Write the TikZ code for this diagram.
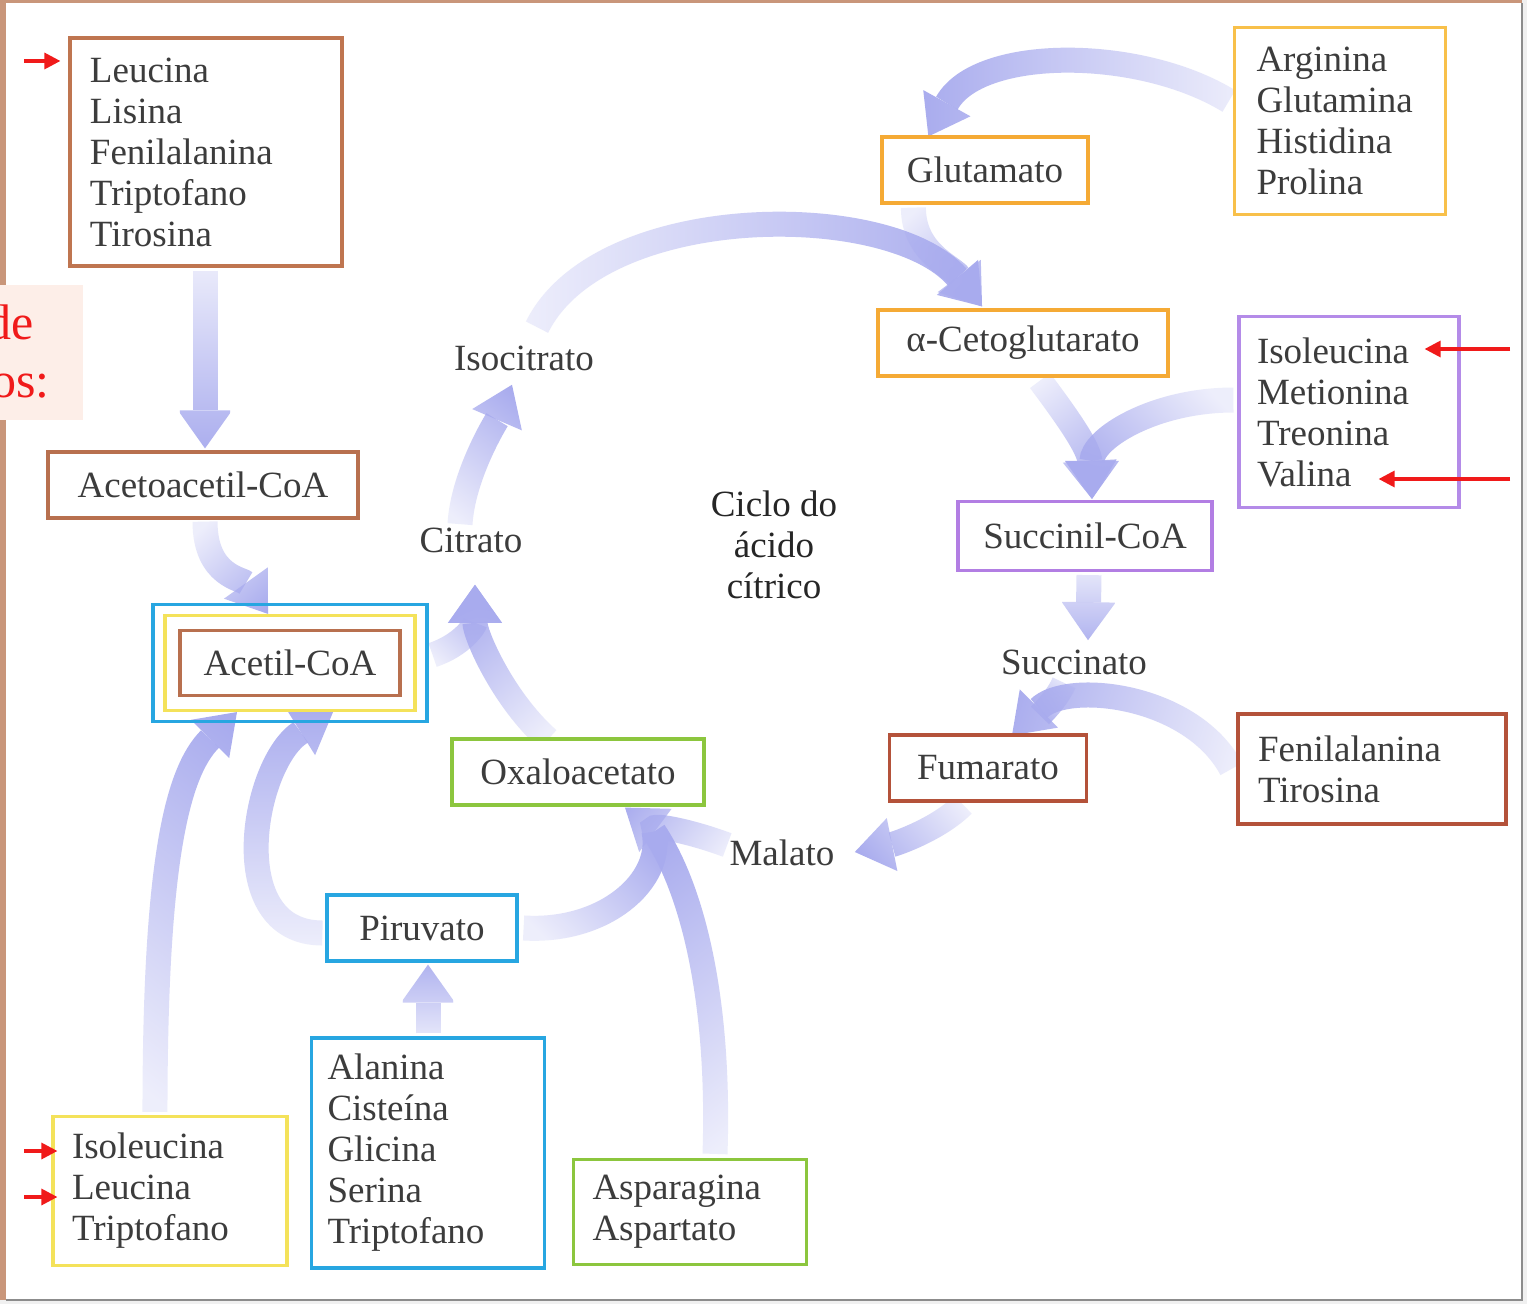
\documentclass[tikz,border=0pt]{standalone}
\usepackage{fontspec}
\setmainfont{Liberation Serif}
\usetikzlibrary{arrows.meta,calc,fadings}
\definecolor{framec}{HTML}{C9967A}
\definecolor{pinkc}{HTML}{FDEEE8}
\definecolor{txtc}{HTML}{3C3C3C}
\definecolor{flowc}{HTML}{A8ABEE}
\definecolor{redc}{HTML}{F01A1A}
\definecolor{brownc}{HTML}{BF7550}
\definecolor{acac}{HTML}{B8704F}
\definecolor{orangec}{HTML}{F5AA35}
\definecolor{argc}{HTML}{F8C04A}
\definecolor{purplec}{HTML}{B48BE8}
\definecolor{scoac}{HTML}{B27EE3}
\definecolor{rbrownc}{HTML}{B4523A}
\definecolor{greenc}{HTML}{8CC63E}
\definecolor{bluec}{HTML}{27A6E1}
\definecolor{yellowc}{HTML}{F4E25A}
\newcommand\boxfont{\fontsize{18.5}{20.5}\selectfont}
\pgfdeclarelayer{bgzero}
\pgfdeclarelayer{bgone}
\pgfsetlayers{bgzero,bgone,main}
\tikzfading[name=tailfade, left color=transparent!80, middle color=transparent!15, right color=transparent!0]
\tikzset{
  lbl/.style={font=\boxfont, text=txtc, inner sep=0pt},
  bx/.style={draw=#1, line width=1.6pt, fill=white, font=\boxfont, text=txtc, inner sep=0pt, align=center},
  lst/.style={align=left, inner xsep=#1, inner ysep=0pt},
  flow/.style={draw=flowc, line width=12.5pt, -{Triangle[width=27pt,length=19pt,line width=0pt]}, path fading=tailfade, fading angle=#1},
  flowt/.style={draw=flowc, line width=12.5pt, path fading=tailfade, fading angle=#1},
  redar/.style={draw=redc, line width=1.6pt, -{Triangle[width=8pt,length=8pt]}},
}
\begin{document}
\begin{tikzpicture}[x=0.5pt,y=-0.5pt]
\useasboundingbox (0,0) rectangle (1527,1304);
\begin{pgfonlayer}{bgzero}
  \fill[white] (0,0) rectangle (1527,1304);
  \fill[framec] (0,0) rectangle (6,1304);
  \fill[framec] (0,0) rectangle (1527,3);
  \fill[black!6] (1522,0) rectangle (1527,1304);
  \fill[black!6] (0,1300) rectangle (1527,1304);
  \draw[black!45, line width=0.6pt] (1522,3) -- (1522,1300) -- (6,1300);
  \fill[pinkc] (0,285) rectangle (83,420);
\end{pgfonlayer}

% red partial title (clipped at the left edge, as in the reference)
\begin{scope}
  \clip (0,285) rectangle (83,420);
  \node[anchor=base east, inner sep=0pt, text=redc, font=\fontsize{25}{30}\selectfont] (de) at (34,340) {de};
  \node[anchor=base east, inner sep=0pt, text=redc, font=\fontsize{25}{30}\selectfont] (os) at (50,398) {os:};
\end{scope}

% boxes
\node[bx=brownc, lst=10pt, text width=116pt, minimum height=114pt] (leu) at (206,152)
  {Leucina\\Lisina\\Fenilalanina\\Triptofano\\Tirosina};
\node[bx=acac, minimum width=155pt, minimum height=33pt] (aca) at (203,485) {Acetoacetil-CoA};
\node[draw=bluec, line width=1.6pt, minimum width=137pt, minimum height=58.5pt, inner sep=0pt] (acoaB) at (290,663) {};
\node[draw=yellowc, line width=1.6pt, minimum width=125pt, minimum height=47.5pt, inner sep=0pt] (acoaY) at (290,663) {};
\node[bx=acac, minimum width=110pt, minimum height=32.5pt] (acoa) at (290,663) {Acetil-CoA};

\node[lbl] (iso) at (524,358) {Isocitrato};
\node[lbl] (cit) at (471,540) {Citrato};
\node[lbl, align=center, text=black!85] (ciclo) at (774,545) {Ciclo do\\ácido\\cítrico};

\node[bx=orangec, minimum width=103pt, minimum height=33pt] (glu) at (985,170) {Glutamato};
\node[bx=argc, lst=11pt, text width=83.5pt, minimum height=93.5pt] (arg) at (1340,121)
  {Arginina\\Glutamina\\Histidina\\Prolina};
\node[bx=orangec, minimum width=145pt, minimum height=33pt] (akg) at (1023,343) {α-Cetoglutarato};
\node[bx=purplec, lst=9pt, text width=92pt, minimum height=95.5pt] (ile) at (1349,412)
  {Isoleucina\\Metionina\\Treonina\\Valina};
\node[bx=scoac, minimum width=127pt, minimum height=34.5pt] (scoa) at (1085,536) {Succinil-CoA};
\node[lbl] (succ) at (1074,662) {Succinato};
\node[bx=rbrownc, minimum width=98.5pt, minimum height=33pt] (fum) at (988,768) {Fumarato};
\node[bx=rbrownc, lst=10pt, text width=114pt, minimum height=55pt] (phe) at (1372,769)
  {Fenilalanina\\Tirosina};
\node[lbl] (mal) at (782,853) {Malato};
\node[bx=greenc, minimum width=126pt, minimum height=33pt] (oaa) at (578,772) {Oxaloacetato};
\node[bx=bluec, minimum width=95pt, minimum height=33pt] (pyr) at (422,928) {Piruvato};
\node[bx=bluec, lst=8pt, text width=100.5pt, minimum height=115pt] (ala) at (428,1153)
  {Alanina\\Cisteína\\Glicina\\Serina\\Triptofano};
\node[bx=yellowc, lst=9.5pt, text width=98pt, minimum height=74.5pt] (ilt) at (170,1191)
  {Isoleucina\\Leucina\\Triptofano};
\node[bx=greenc, lst=9.5pt, text width=97.5pt, minimum height=52.5pt] (asn) at (690,1212)
  {Asparagina\\Aspartato};

% connection points
\coordinate (citin) at ($(cit.south)+(4,32)$);
\coordinate (akgin) at ($(akg.north)+(-41,-2)$);
\coordinate (scoain) at ($(scoa.north)+(7,-1)$);
\coordinate (fumin) at ($(fum.north)+(24,2)$);
\coordinate (fummerge) at ($(fum.north)+(52,-18)$);
\coordinate (oaain) at ($(oaa.south)+(47,1)$);
\coordinate (oaamerge) at ($(oaa.south)+(76,25)$);

\begin{pgfonlayer}{bgone}
  \draw[flow=-90] ($(leu.south)+(-1,3)$) -- ($(aca.north)+(2,-2)$);
  \draw[flow=-56] ($(aca.south)+(2,2)$) .. controls +(0,55) and +(-25,-35) .. ($(acoaY.north)+(-22,0)$);
  \draw[flow=57] ($(acoaB.east)+(4,-8)$) .. controls +(30,-10) and +(0,40) .. (citin);
  \draw[flow=115] ($(oaa.north)+(-30,2)$) .. controls +(-45,-40) and +(0,50) .. (citin);
  \draw[flow=69] ($(cit.north)+(-11,-3)$) .. controls +(3,-50) and +(-15,35) .. ($(iso.south)+(-12,14)$);
  \draw[flow=0] ($(iso.north)+(13,-18)$) .. controls +(63,-127) and +(-91,-107) .. (akgin);
  \draw[flow=-56] ($(glu.south west)+(33,3)$) .. controls +(0,45) and +(-30,-40) .. (akgin);
  \draw[flow=180] ($(arg.west)+(-4,-20)$) .. controls +(-90,-55) and +(50,-90) .. ($(glu.north west)+(48,1)$);
  \draw[flow=-67] ($(akg.south)+(17,3)$) .. controls +(30,40) and +(-3,-50) .. (scoain);
  \draw[flow=215] ($(ile.west)+(-4,-12)$) .. controls +(-80,0) and +(0,-60) .. (scoain);
  \draw[flow=-90] ($(scoa.south)+(4,3)$) -- ($(succ.north)+(14,-9)$);
  \draw[flow=172] ($(phe.west)+(-5,0)$) .. controls +(-40,-75) and +(55,-55) .. (fumin);
  \draw[flowt=-120] ($(succ.south)+(-10,8)$) .. controls +(-5,12) and +(8,-8) .. (fummerge);
  \draw[flow=-155] ($(fum.south)+(-25,2)$) .. controls +(-25,25) and +(40,-8) .. ($(mal.east)+(20,-1)$);
  \draw[flowt=37] ($(pyr.east)+(5,0)$) .. controls +(80,5) and +(10,50) .. (oaamerge);
  \draw[flowt=101] ($(asn.north)+(25,-4)$) .. controls +(5,-150) and +(40,60) .. (oaamerge);
  \draw[flow=159] ($(mal.west)+(-2,-8)$) .. controls +(-40,-15) and +(20,15) .. (oaain);
  \draw[flow=90] ($(pyr.west)+(-3,5)$) .. controls +(-100,0) and +(-80,50) .. ($(acoaY.south)+(43,0)$);
  \draw[flow=79] ($(ilt.north)+(-15,-3)$) .. controls +(0,-250) and +(-60,60) .. ($(acoaY.south)+(-53,0)$);
  \draw[flow=90] ($(ala.north)+(0,-3)$) -- ($(pyr.south)+(6,2)$);
\end{pgfonlayer}

% red pointer arrows
\coordinate (r1) at (24,61);
\coordinate (r2) at (24,1151);
\coordinate (r3) at (24,1197);
\coordinate (r4) at (1510,349);
\coordinate (r5) at (1510,479);
\draw[redar] (r1) -- ($(leu.west)+(-8,-91)$);
\draw[redar] (r2) -- ($(ilt.west)+(6,-40)$);
\draw[redar] (r3) -- ($(ilt.west)+(6,6)$);
\draw[redar] (r4) -- ($(ile.east)+(-36,-63)$);
\draw[redar] (r5) -- ($(ile.east)+(-82,67)$);
\end{tikzpicture}
\end{document}
